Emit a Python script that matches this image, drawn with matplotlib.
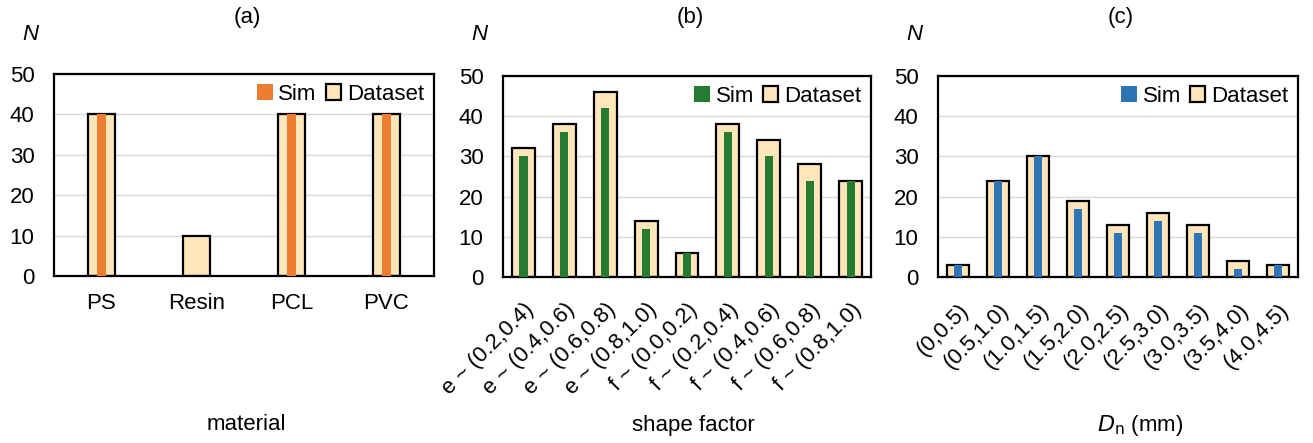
import matplotlib.pyplot as plt
from matplotlib.patches import Patch
import numpy as np

plt.rcParams['font.family'] = ['Liberation Sans', 'DejaVu Sans']

# (a) material
mat_labels = ["PS", "Resin", "PCL", "PVC"]
mat_dataset = [40, 10, 40, 40]
mat_sim = [40, 0, 40, 40]

# (b) shape factor
shape_labels = ["e ~ (0.2,0.4)", "e ~ (0.4,0.6)", "e ~ (0.6,0.8)", "e ~ (0.8,1.0)",
                "f ~ (0.0,0.2)", "f ~ (0.2,0.4)", "f ~ (0.4,0.6)", "f ~ (0.6,0.8)",
                "f ~ (0.8,1.0)"]
shape_dataset = [32, 38, 46, 14, 6, 38, 34, 28, 24]
shape_sim = [30, 36, 42, 12, 6, 36, 30, 24, 24]

# (c) particle size
size_labels = ["(0,0.5)", "(0.5,1.0)", "(1.0,1.5)", "(1.5,2.0)", "(2.0,2.5)",
               "(2.5,3.0)", "(3.0,3.5)", "(3.5,4.0)", "(4.0,4.5)"]
size_dataset = [3, 24, 30, 19, 13, 16, 13, 4, 3]
size_sim = [3, 24, 30, 17, 11, 14, 11, 2, 3]

fill = "#FFE6BA"
fs = 16

fig = plt.figure(figsize=(13.13, 4.43), dpi=100)

panels = [
    ([0.0411, 0.377, 0.2894, 0.456], mat_labels, mat_dataset, mat_sim, "#ED7D31",
     0.29, 0.095, 0, "(a)", "material", 2),
    ([0.3831, 0.3747, 0.2803, 0.4537], shape_labels, shape_dataset, shape_sim, "#267B33",
     0.56, 0.2, 45, "(b)", "shape factor", 6),
    ([0.7144, 0.3747, 0.2742, 0.4537], size_labels, size_dataset, size_sim, "#2E75B6",
     0.57, 0.22, 45, "(c)", r"$\it{D}_{\rm n}$ (mm)", 22),
]

for rect, labels, dataset, sim, col, w_d, w_s, rot, tag, xlab, xoff in panels:
    ax = fig.add_axes(rect)
    x = np.arange(len(labels))
    ax.bar(x, dataset, width=w_d, color=fill, edgecolor="black", linewidth=1.6, zorder=2)
    ax.bar(x, sim, width=w_s, color=col, linewidth=0, zorder=3)
    ax.set_ylim(0, 50)
    ax.set_xlim(-0.5, len(labels) - 0.5)
    ax.set_yticks(range(0, 51, 10))
    ax.yaxis.grid(True, color="#D9D9D9", linewidth=1.0, zorder=0)
    ax.set_axisbelow(True)
    for s in ax.spines.values():
        s.set_linewidth(1.6)
    ax.tick_params(axis="both", length=0, labelsize=fs)
    ax.tick_params(axis="y", pad=14)
    ax.set_xticks(x)
    if rot:
        ax.set_xticklabels(labels, rotation=rot, ha="right", va="top",
                           rotation_mode="anchor")
        ax.tick_params(axis="x", pad=16)
    else:
        ax.set_xticklabels(labels)
        ax.tick_params(axis="x", pad=12)

    handles = [Patch(facecolor=col, edgecolor="none"),
               Patch(facecolor=fill, edgecolor="black", linewidth=1.6)]
    ax.legend(handles, ["Sim", "Dataset"], loc="upper right", ncol=2, frameon=False,
              fontsize=fs, handlelength=0.7, handleheight=0.7, handletextpad=0.25,
              columnspacing=0.4, borderaxespad=0.15, borderpad=0.3)

    cx = rect[0] + rect[2] / 2
    fig.text(cx + 3 / 1313, 1 - 17 / 443, tag, ha="center", va="center", fontsize=fs)
    fig.text(rect[0] - 24 / 1313, 1 - 35 / 443, "N", style="italic", ha="center",
             va="center", fontsize=fs)
    fig.text(cx + xoff / 1313, 1 - 425 / 443, xlab, ha="center",
             va="center", fontsize=fs)

fig.savefig("out.png", dpi=100)
